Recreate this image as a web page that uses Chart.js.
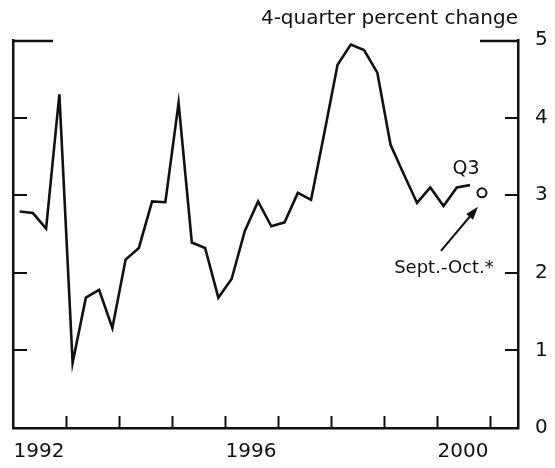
<!DOCTYPE html>
<html>
<head>
<meta charset="utf-8">
<script src="https://cdn.jsdelivr.net/npm/chart.js@4"></script>
<style>
  html, body { margin: 0; padding: 0; background: #fff; }
  #wrap { width: 555px; height: 468px; }
</style>
</head>
<body>
<div id="wrap"><canvas id="inflChart" width="555" height="468"></canvas></div>
<script>
// quarterly data, 4-quarter percent change
const quarters = [
  '1992 Q1','1992 Q2','1992 Q3','1992 Q4',
  '1993 Q1','1993 Q2','1993 Q3','1993 Q4',
  '1994 Q1','1994 Q2','1994 Q3','1994 Q4',
  '1995 Q1','1995 Q2','1995 Q3','1995 Q4',
  '1996 Q1','1996 Q2','1996 Q3','1996 Q4',
  '1997 Q1','1997 Q2','1997 Q3','1997 Q4',
  '1998 Q1','1998 Q2','1998 Q3','1998 Q4',
  '1999 Q1','1999 Q2','1999 Q3','1999 Q4',
  '2000 Q1','2000 Q2','2000 Q3'
];
const pctChange = [
  2.79, 2.77, 2.57, 4.30,
  0.84, 1.68, 1.78, 1.29,
  2.17, 2.32, 2.92, 2.91,
  4.19, 2.39, 2.32, 1.68,
  1.92, 2.54, 2.92, 2.60,
  2.65, 3.03, 2.94, 3.80,
  4.68, 4.94, 4.87, 4.58,
  3.65, 3.27, 2.90, 3.10,
  2.86, 3.10, 3.13
];
// Sept.-Oct. 2000 reading (position in years, value)
const septOctX = 2000.85;
const septOctValue = 3.03;

const yearTicks = [1992, 1993, 1994, 1995, 1996, 1997, 1998, 1999, 2000, 2001];
const yearLabels = [1992, 1996, 2000];
const valueTicks = [0, 1, 2, 3, 4, 5];

const INK = '#111';
Chart.defaults.font.family = "'DejaVu Sans', sans-serif";
Chart.defaults.color = INK;

// quarter label -> position in years (middle of the quarter)
function quarterPos(q) {
  var parts = q.split(' Q');
  return parseInt(parts[0], 10) + (parseInt(parts[1], 10) - 0.5) / 4;
}
const lineData = quarters.map(function(q, i) {
  return { x: quarterPos(q), y: pctChange[i] };
});

// inward tick marks, top stubs, and the text notes
const decorations = {
  id: 'decorations',
  afterDraw: function(chart) {
    const ctx = chart.ctx;
    const area = chart.chartArea;
    const xs = chart.scales.x, yr = chart.scales.y;
    ctx.save();
    ctx.strokeStyle = INK;
    ctx.lineWidth = 2;
    ctx.lineCap = 'butt';
    ctx.beginPath();
    xs.ticks.forEach(function(t) {
      if (t.value <= xs.min || t.value >= xs.max) return;
      const px = Math.round(xs.getPixelForValue(t.value)) + 0.5;
      ctx.moveTo(px, area.bottom);
      ctx.lineTo(px, area.bottom - 12);
    });
    yr.ticks.forEach(function(t) {
      if (t.value <= yr.min || t.value >= yr.max) return;
      const py = Math.round(yr.getPixelForValue(t.value));
      ctx.moveTo(area.right, py);
      ctx.lineTo(area.right - 13, py);
      ctx.moveTo(area.left, py);
      ctx.lineTo(area.left + 14, py);
    });
    ctx.stroke();

    // top border stubs
    ctx.lineWidth = 2.5;
    ctx.beginPath();
    ctx.moveTo(area.left, area.top + 1);
    ctx.lineTo(area.left + 40, area.top + 1);
    ctx.moveTo(area.right - 38, area.top + 1);
    ctx.lineTo(area.right, area.top + 1);
    ctx.stroke();

    // unit caption
    ctx.fillStyle = INK;
    ctx.font = "20px 'DejaVu Sans'";
    ctx.textAlign = 'right';
    ctx.textBaseline = 'alphabetic';
    ctx.fillText('4-quarter percent change', area.right, area.top - 16);

    // Q3 note above the last quarterly point
    const last = lineData[lineData.length - 1];
    const lx = xs.getPixelForValue(last.x);
    const ly = yr.getPixelForValue(last.y);
    ctx.font = "19px 'DejaVu Sans'";
    ctx.textAlign = 'center';
    ctx.fillText('Q3', lx - 4, ly - 11);

    // Sept.-Oct. note with arrow to the marker
    const mx = xs.getPixelForValue(septOctX);
    const my = yr.getPixelForValue(septOctValue);
    ctx.font = "18px 'DejaVu Sans'";
    ctx.fillText('Sept.-Oct.*', mx - 38, my + 80);
    const sx = mx - 41, sy = my + 58, tx = mx - 4, ty = my + 14;
    const ang = Math.atan2(ty - sy, tx - sx);
    ctx.lineWidth = 2;
    ctx.beginPath();
    ctx.moveTo(sx, sy);
    ctx.lineTo(tx - 8 * Math.cos(ang), ty - 8 * Math.sin(ang));
    ctx.stroke();
    ctx.beginPath();
    ctx.moveTo(tx, ty);
    ctx.lineTo(tx - 13 * Math.cos(ang) + 4.5 * Math.sin(ang), ty - 13 * Math.sin(ang) - 4.5 * Math.cos(ang));
    ctx.lineTo(tx - 13 * Math.cos(ang) - 4.5 * Math.sin(ang), ty - 13 * Math.sin(ang) + 4.5 * Math.cos(ang));
    ctx.closePath();
    ctx.fill();
    ctx.restore();
  }
};

const noGrid = { display: true, drawOnChartArea: false, drawTicks: false };
const axisBorder = { display: true, color: INK, width: 2.5 };

// keep the axes from pushing the plot area in
function clearPadding(scale) {
  scale.paddingLeft = 0;
  scale.paddingRight = 0;
  scale.paddingTop = 0;
  scale.paddingBottom = 0;
}

const config = {
  type: 'line',
  data: {
    datasets: [{
      label: '4-quarter percent change',
      data: lineData,
      borderColor: INK,
      borderWidth: 2.6,
      borderJoinStyle: 'miter',
      pointRadius: 0,
      tension: 0,
      fill: false,
      xAxisID: 'x',
      yAxisID: 'y'
    },
    {
      label: 'Sept.-Oct.',
      data: [{ x: septOctX, y: septOctValue }],
      showLine: false,
      pointStyle: 'circle',
      pointRadius: 4.5,
      pointBorderWidth: 2,
      pointBorderColor: INK,
      pointBackgroundColor: '#fff',
      xAxisID: 'x',
      yAxisID: 'y'
    },
    {
      label: 'Sept.-Oct. bar',
      data: [{ x: septOctX, y: septOctValue }],
      showLine: false,
      pointStyle: 'line',
      pointRadius: 3,
      pointBorderWidth: 1.5,
      pointBorderColor: INK,
      xAxisID: 'x',
      yAxisID: 'y'
    }]
  },
  options: {
    responsive: false,
    animation: false,
    events: [],
    layout: { autoPadding: false, padding: { top: 40, left: 13, right: 8, bottom: 4 } },
    plugins: {
      legend: { display: false },
      tooltip: { enabled: false }
    },
    scales: {
      x: {
        type: 'linear',
        position: 'bottom',
        min: 1992,
        max: 2001.53,
        afterBuildTicks: function(scale) {
          scale.ticks = yearTicks.map(function(v) { return { value: v }; });
        },
        afterFit: function(scale) {
          clearPadding(scale);
          scale.height = 36;
        },
        ticks: {
          autoSkip: false,
          maxRotation: 0,
          labelOffset: 26,
          padding: 12,
          font: { size: 20 },
          callback: function(v) { return yearLabels.indexOf(v) >= 0 ? String(v) : ''; }
        },
        grid: noGrid,
        border: axisBorder
      },
      y: {
        type: 'linear',
        position: 'right',
        min: 0,
        max: 5,
        afterBuildTicks: function(scale) {
          scale.ticks = valueTicks.map(function(v) { return { value: v }; });
        },
        afterFit: function(scale) {
          clearPadding(scale);
          scale.width = 29;
        },
        ticks: { padding: 17, font: { size: 20 } },
        grid: noGrid,
        border: axisBorder
      },
      yL: {
        type: 'linear',
        position: 'left',
        min: 0,
        max: 5,
        afterFit: function(scale) {
          clearPadding(scale);
          scale.width = 0;
        },
        ticks: { display: false },
        grid: noGrid,
        border: axisBorder
      }
    }
  },
  plugins: [decorations]
};

const inflChart = new Chart(document.getElementById('inflChart'), config);
</script>
</body>
</html>
